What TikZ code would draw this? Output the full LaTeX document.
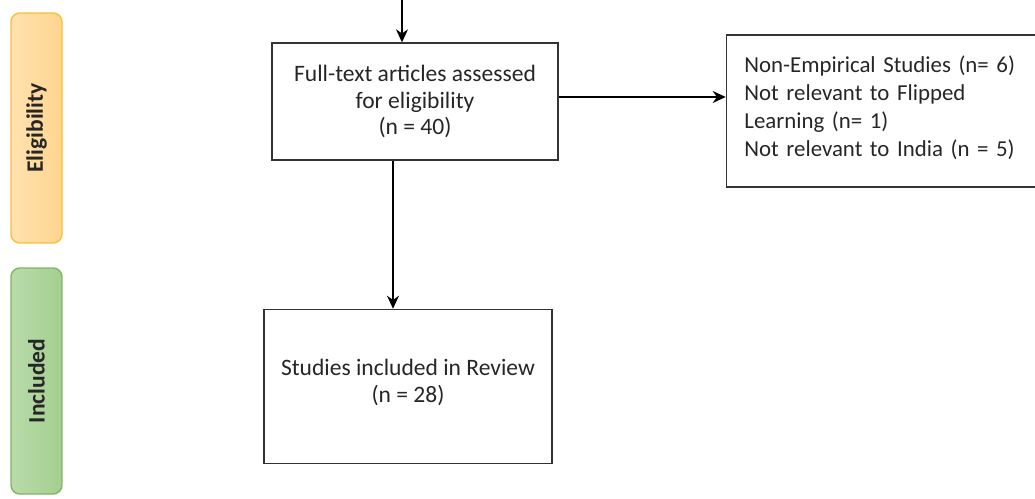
\documentclass[tikz,border=0pt]{standalone}
\usepackage{fontspec}
\setmainfont{Carlito}
\usepackage{tikz}
\usetikzlibrary{arrows.meta, positioning, calc}

\definecolor{eligfill}{HTML}{FFD58E}
\definecolor{eligedge}{HTML}{F5C03A}
\definecolor{inclfill}{HTML}{A3CF8E}
\definecolor{incledge}{HTML}{82B366}

\begin{document}
\begin{tikzpicture}[
        box/.style={rectangle, draw=black!80, thick, text centered, align=center, font=\fontsize{13.4}{15.2}\selectfont, text=black!85},
        listbox/.style={rectangle, draw=black!80, thick, align=left, font=\fontsize{13}{15.9}\selectfont, text=black!85, inner xsep=0.36cm},
        phase/.style={rectangle, rounded corners=5pt, thick, minimum width=1.02cm, font=\fontsize{13.4}{15}\selectfont\bfseries, text=black!85},
        arrow/.style={thick,->,>={Stealth[length=2.6mm,width=2.4mm]}}
    ]
        \clip (0,0) rectangle (20.7,-9.96);

        % Phase bars
        \node[phase, draw=eligedge, left color=eligfill!70, right color=eligfill, minimum height=4.6cm] (elig) at (0.73,-2.56) {\rotatebox{90}{Eligibility}};
        \node[phase, draw=incledge, left color=inclfill!75, right color=inclfill, minimum height=4.52cm] (incl) at (0.73,-7.62) {\rotatebox{90}{Included}};

        % Boxes
        \node[box, minimum width=5.72cm, minimum height=2.34cm] (full) at (8.30,-2.03) {
            Full-text articles assessed\\
            for eligibility\\
            (n = 40)
        };
        \node[listbox, text width=5.78cm, minimum height=3.04cm, right=3.34cm of full, yshift=-0.19cm] (excl) {
            Non-Empirical Studies (n= 6)\\
            Not relevant to Flipped\\
            Learning (n= 1)\\
            Not relevant to India (n = 5)\\[-0.38cm]\mbox{}
        };
        \node[box, minimum width=5.76cm, minimum height=3.08cm, below=2.96cm of full, xshift=-0.14cm] (incd) {
            Studies included in Review\\
            (n = 28)\\[-0.3cm]\mbox{}
        };

        % Arrows
        \coordinate (top) at (8.04,0.1);
        \draw[arrow] (top) -- (top |- full.north);
        \draw[arrow] ([yshift=0.09cm]full.east) -- ([yshift=0.09cm]full.east -| excl.west);
        \draw[arrow] ([xshift=-0.44cm]full.south) -- ([xshift=-0.44cm]full.south |- incd.north);
    \end{tikzpicture}
\end{document}
